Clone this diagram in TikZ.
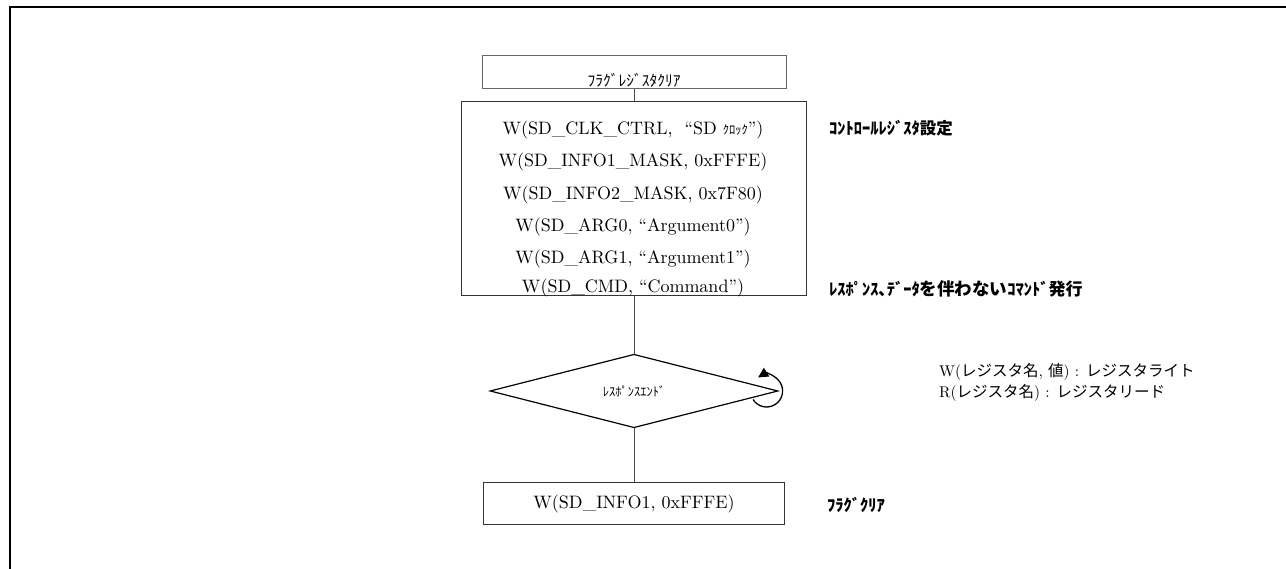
\documentclass[tikz,border=0pt]{standalone}
\usepackage{fontspec}
\setmainfont{lmroman10-regular}[Extension=.otf]
\newfontfamily\jp{Noto Sans CJK JP}
\usetikzlibrary{shapes.geometric,arrows.meta,calc}
\begin{document}
\begin{tikzpicture}[x=1pt,y=1pt,
  box/.style={draw=black!80, line width=1pt, inner sep=0pt},
  conn/.style={draw=black!70, line width=1pt},
  cmd/.style={font=\fontsize{18}{21}\selectfont, inner sep=0pt, anchor=center},
  note/.style={font=\jp\bfseries\fontsize{16.5}{19}\selectfont, inner sep=0pt, anchor=west},
  legend/.style={font=\fontsize{15.5}{18}\selectfont, inner sep=0pt, anchor=west},
  jplight/.style={font=\jp\fontsize{15.5}{18}\selectfont, inner sep=0pt}]
\useasboundingbox (0,0) rectangle (1286,569);
\coordinate (fl) at (10,0);
\coordinate (ftl) at (10,561.5);
\coordinate (ftr) at (1286,561.5);
\draw[line width=2pt] (fl) -- (ftl) -- (ftr);

% boxes
\node[box, draw=black!60, minimum width=304pt, minimum height=33pt] (flag) at (634,496.5) {};
\node[jplight] (flagt) at (634,489) {ﾌﾗｸﾞﾚｼﾞｽﾀｸﾘｱ};
\node[box, minimum width=345pt, minimum height=194pt] (main) at (634,370) {};
\node[cmd] (l1) at (633,439) {W(SD\_CLK\_CTRL,\ \ “SD {\jp\fontsize{12.5}{14}\selectfont ｸﾛｯｸ}”)};
\node[cmd] (l2) at (633,406.5) {W(SD\_INFO1\_MASK, 0xFFFE)};
\node[cmd] (l3) at (633,374) {W(SD\_INFO2\_MASK, 0x7F80)};
\node[cmd] (l4) at (633,341.5) {W(SD\_ARG0, “Argument0”)};
\node[cmd] (l5) at (633,310) {W(SD\_ARG1, “Argument1”)};
\node[cmd] (l6) at (633,281) {W(SD\_CMD, “Command”)};

\node[diamond, draw=black, line width=1.2pt, minimum width=288pt, minimum height=62pt, inner sep=0pt, font=\jp\fontsize{12.5}{15}\selectfont] (dec) at (634,178) {ﾚｽﾎﾟﾝｽｴﾝﾄﾞ};

\node[box, cmd, minimum width=301pt, minimum height=42pt] (info) at (634,65) {W(SD\_INFO1, 0xFFFE)};

% connectors
\draw[conn] (flag.south) -- (main.north);
\draw[conn] (main.south) -- (dec.north);
\draw[conn] (dec.south) -- (info.north);

% loop
\draw[line width=1.3pt, -{Triangle[length=10pt,width=10pt]}]
  ($(dec.east)+(-12,0)+(212:16)$) arc[start angle=212, end angle=482, radius=16pt];

% right-hand notes
\node[note] (n1) at (829,441) {ｺﾝﾄﾛｰﾙﾚｼﾞｽﾀ設定};
\node[note] (n2) at (829,280.5) {ﾚｽﾎﾟﾝｽ､ﾃﾞｰﾀ{\fontsize{17.5}{20}\selectfont を伴わない}ｺﾏﾝﾄﾞ{\fontsize{17}{20}\selectfont 発行}};
\node[note] (n3) at (827,64) {ﾌﾗｸﾞｸﾘｱ};

\node[legend] (w) at (939,197.3) {W({\jp レジスタ名}, {\jp 値}) : {\jp レジスタライト}};
\node[legend] (r) at (939,176.3) {R({\jp レジスタ名}) : {\jp レジスタリード}};
\end{tikzpicture}
\end{document}
